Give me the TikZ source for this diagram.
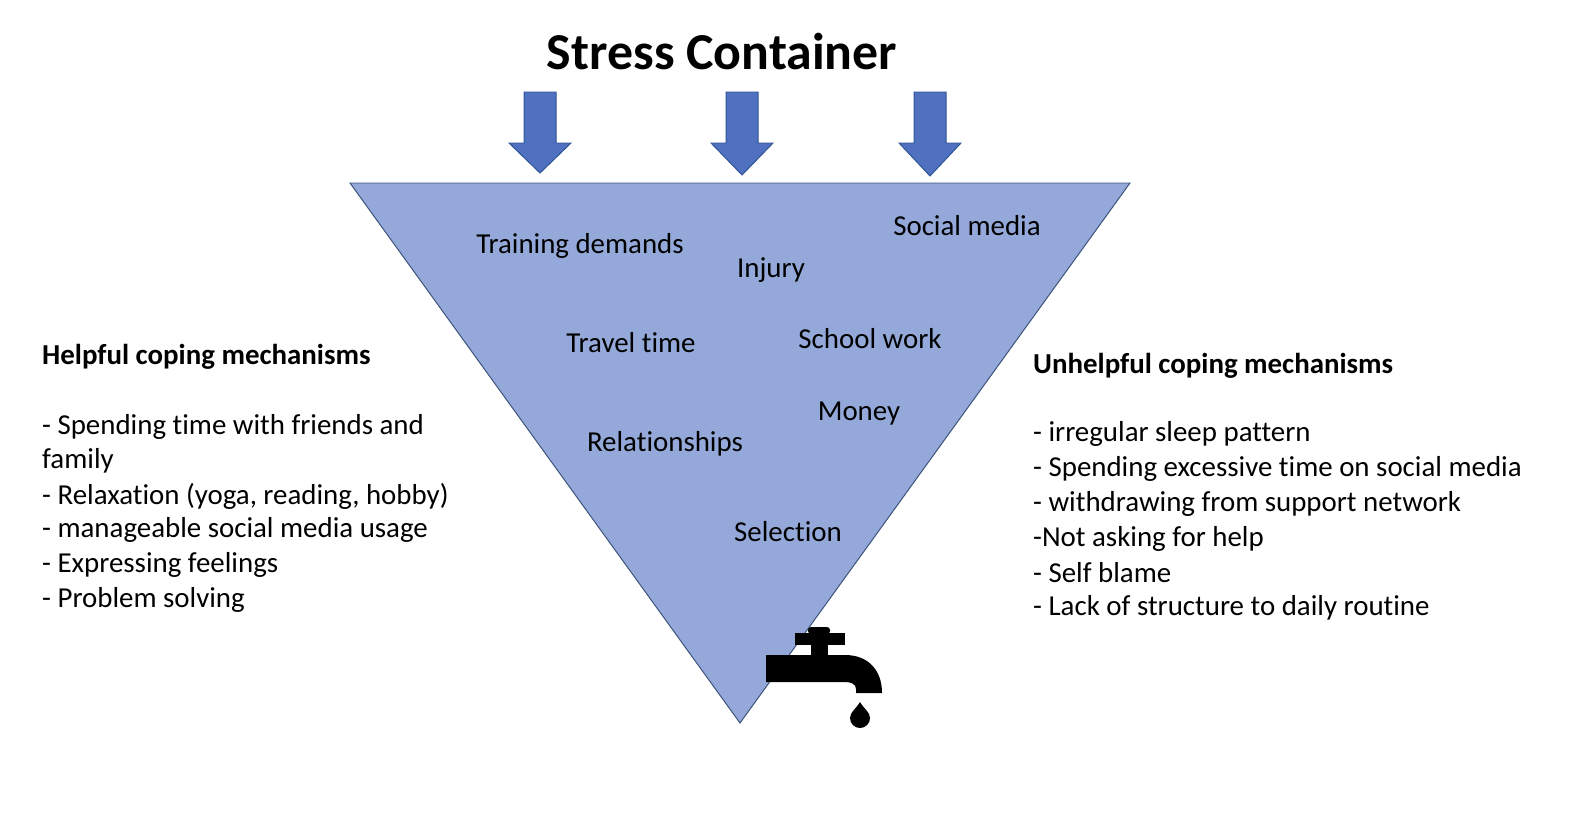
\documentclass[tikz,border=0pt]{standalone}
\usepackage{fontspec}
\setmainfont{Carlito}[Ligatures=NoCommon]
\begin{document}
\begin{tikzpicture}[x=1bp,y=-1bp,
 lbl/.style={font=\fontsize{29}{34}\selectfont,inner sep=0pt},
 side/.style={font=\fontsize{29}{34}\selectfont,inner sep=0pt,anchor=west},
 barrow/.style={fill=arrowfill,draw=arrowdraw,line width=1pt}]
\definecolor{trifill}{HTML}{94A9D9}
\definecolor{tridraw}{HTML}{3D5479}
\definecolor{arrowfill}{HTML}{5070C0}
\definecolor{arrowdraw}{HTML}{2F5597}
\useasboundingbox (0,0) rectangle (1586,822);
\draw[fill=trifill,draw=tridraw,line width=1pt] (350,183) -- (1130,183) -- (740,723) -- cycle;
\foreach \x/\t in {540/173,742/175,930/176}{
 \draw[barrow] (\x-16,92) -- (\x+16,92) -- (\x+16,143) -- (\x+31,143) -- (\x,\t) -- (\x-31,143) -- (\x-16,143) -- cycle;}
\node[font=\bfseries\fontsize{52}{58}\selectfont,inner sep=0pt] (title) at (722,52) {Stress Container};
\node[lbl] (t1) at (580,246) {Training demands};
\node[lbl] (t2) at (771,270) {Injury};
\node[lbl] (t3) at (967,226) {Social media};
\node[lbl] (t4) at (631,343) {Travel time};
\node[lbl] (t5) at (870,339) {School work};
\node[lbl] (t6) at (859,414) {Money};
\node[lbl] (t7) at (665,444) {Relationships};
\node[lbl] (t8) at (788,532) {Selection};
\node[side,font=\bfseries\fontsize{29}{34}\selectfont] (h1) at (42,357) {Helpful coping mechanisms};
\node[side] (l1) at (42,427) {- Spending time with friends and};
\node[side] (l2) at (42,461) {family};
\node[side] (l3) at (42,496) {- Relaxation (yoga, reading, hobby)};
\node[side] (l4) at (42,530) {- manageable social media usage};
\node[side] (l5) at (42,565) {- Expressing feelings};
\node[side] (l6) at (42,600) {- Problem solving};
\node[side,font=\bfseries\fontsize{29}{34}\selectfont] (h2) at (1033,366) {Unhelpful coping mechanisms};
\node[side] (r1) at (1033,434) {- irregular sleep pattern};
\node[side] (r2) at (1033,469) {- Spending excessive time on social media};
\node[side] (r3) at (1033,504) {- withdrawing from support network};
\node[side] (r4) at (1033,539) {-Not asking for help};
\node[side] (r5) at (1033,573) {- Self blame};
\node[side] (r6) at (1033,608) {- Lack of structure to daily routine};
% tap
\fill[black] (795,633) rectangle (845,645);
\fill[black] (811,628) rectangle (828,656);
\fill[black,rounded corners=3pt] (808,627) rectangle (830,634);
\fill[black] (766,655) -- (845,655) .. controls (868,655) and (882,670) .. (882,693) -- (856,693) -- (856,689) .. controls (856,684) and (851,682) .. (845,682) -- (766,682) -- cycle;
\fill[black] (860,702) .. controls (864,709) and (870,712) .. (870,718) arc[start angle=0,end angle=-180,radius=10bp] .. controls (850,712) and (856,709) .. (860,702) -- cycle;
\end{tikzpicture}
\end{document}
